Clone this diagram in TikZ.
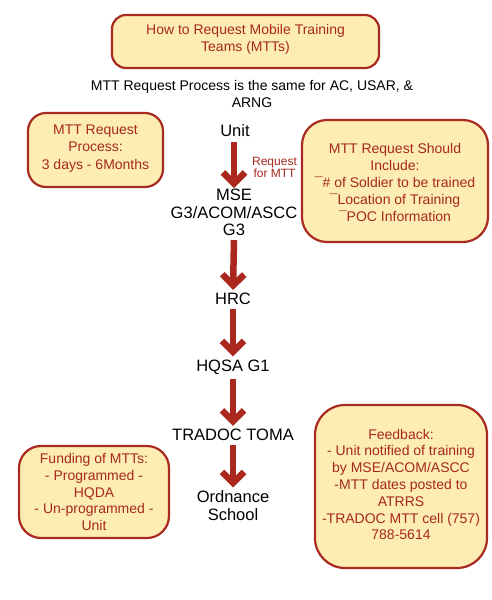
\documentclass[tikz,border=0pt]{standalone}
\usepackage{fontspec}
\setmainfont{Liberation Sans}
\usetikzlibrary{arrows.meta}
\definecolor{boxfill}{RGB}{253,237,178}
\definecolor{boxline}{RGB}{168,42,32}
\definecolor{redtext}{RGB}{166,40,30}
\definecolor{arrowred}{RGB}{170,40,30}
\tikzset{
  infobox/.style={draw=boxline, line width=2.2pt, fill=boxfill, text=redtext,
    align=center, font=\fontsize{14}{17}\selectfont, inner sep=0pt},
  stepnode/.style={align=center, font=\fontsize{16.5}{17.5}\selectfont, inner sep=1pt},
  flowarrow/.style={draw=arrowred, line width=6.5pt,
    -{Straight Barb[length=11pt,width=22pt,line width=6.5pt]}},
  reqlabel/.style={text=redtext, align=center, font=\fontsize{12}{12}\selectfont, inner sep=0pt}
}
\begin{document}
\begin{tikzpicture}[x=1pt,y=-1pt]
\useasboundingbox[fill=white] (0,0) rectangle (492,600);

% title box
\node[infobox, rounded corners=14pt, minimum width=267pt, minimum height=53pt] (titlebox) at (245.5,41.5) {};
\node[text=redtext, align=center, font=\fontsize{14}{17}\selectfont] (title) at (245.5,39.5) {How to Request Mobile Training\\Teams (MTTs)};

\node[align=center, font=\fontsize{14}{17}\selectfont] (subtitle) at (252,93.5) {MTT Request Process is the same for AC, USAR, \&\\ARNG};

% side boxes
\node[infobox, rounded corners=18pt, minimum width=135pt, minimum height=74pt] (procbox) at (95.5,150) {};
\node[text=redtext, align=center, font=\fontsize{14}{17.5}\selectfont] (proctext) at (95.5,148.5) {MTT Request\\Process:\\3 days - 6Months};

\node[infobox, rounded corners=25pt, minimum width=186pt, minimum height=122pt] (inclbox) at (395,181) {};
\node[text=redtext, align=center, font=\fontsize{14}{17}\selectfont] (incltext) at (395,182) {MTT Request Should\\Include:\\¯\# of Soldier to be trained\\¯Location of Training\\¯POC Information};

\node[infobox, rounded corners=22pt, minimum width=150pt, minimum height=92pt] (fundbox) at (94,492) {};
\node[text=redtext, align=center, font=\fontsize{14}{16.6}\selectfont] (fundtext) at (94,492) {Funding of MTTs:\\- Programmed -\\HQDA\\- Un-programmed -\\Unit};

\node[infobox, rounded corners=30pt, minimum width=172pt, minimum height=163pt] (feedbox) at (401,486.5) {};
\node[text=redtext, align=center, font=\fontsize{14}{16.8}\selectfont] (feedtext) at (401,484.5) {Feedback:\\- Unit notified of training\\by MSE/ACOM/ASCC\\-MTT dates posted to\\ATRRS\\-TRADOC MTT cell (757)\\788-5614};

% flow nodes
\node[stepnode] (unit) at (235,131) {Unit};
\node[stepnode] (mse) at (234,212.5) {MSE\\G3/ACOM/ASCC\\G3};
\node[stepnode] (hrc) at (233,299) {HRC};
\node[stepnode] (hqsa) at (233,367) {HQSA G1};
\node[stepnode] (tradoc) at (233,435) {TRADOC TOMA};
\node[stepnode] (ord) at (233,505.5) {Ordnance\\School};

\coordinate (a1s) at (234,142);
\coordinate (a1e) at (234,188);
\draw[flowarrow] (a1s) -- (a1e);
\node[reqlabel] (req) at (274.5,167.5) {Request\\for MTT};

\draw[flowarrow] ([yshift=-3pt]mse.south) -- ([yshift=2pt]hrc.north);
\draw[flowarrow] ([yshift=-3pt]hrc.south) -- ([yshift=2pt]hqsa.north);
\draw[flowarrow] ([yshift=-3pt]hqsa.south) -- ([yshift=2pt]tradoc.north);
\draw[flowarrow] ([yshift=-3pt]tradoc.south) -- ([yshift=2pt]ord.north);
\end{tikzpicture}
\end{document}
